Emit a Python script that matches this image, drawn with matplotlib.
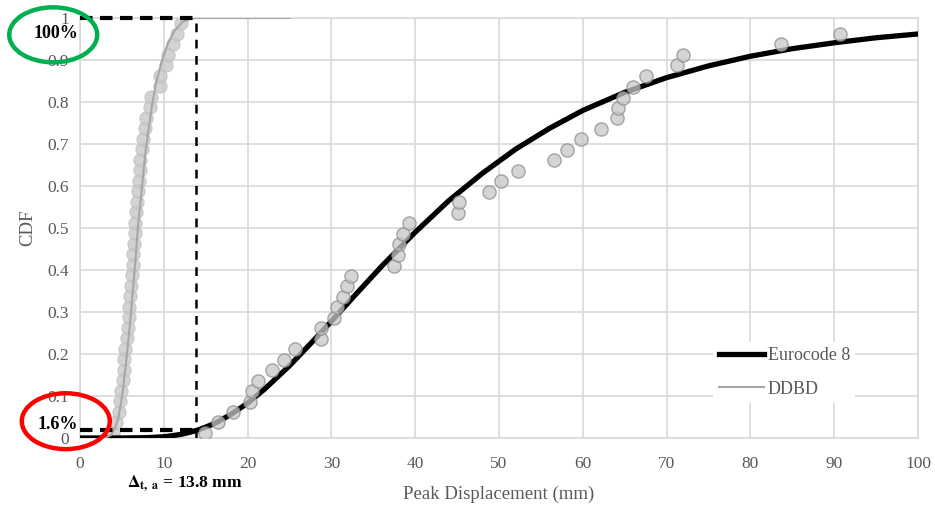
import numpy as np
import matplotlib.pyplot as plt
from matplotlib.patches import Ellipse

plt.rcParams['font.family'] = ['Liberation Serif', 'DejaVu Serif']
plt.rcParams['mathtext.fontset'] = 'stix'

# fitted CDF curves
ec8_x = [0, 5, 8, 10, 11, 12, 13, 14, 15, 16, 18, 20, 22, 25, 28, 30, 33, 36,
         40, 44, 48, 52, 56, 60, 65, 70, 75, 80, 85, 90, 95, 100]
ec8_cdf = [0.0, 0.0, 0.0008, 0.003, 0.0055, 0.0085, 0.013, 0.0186, 0.026,
           0.034, 0.056, 0.083, 0.116, 0.172, 0.235, 0.278, 0.344, 0.409,
           0.490, 0.565, 0.630, 0.688, 0.737, 0.780, 0.823, 0.858, 0.886,
           0.909, 0.927, 0.941, 0.953, 0.962]

ddbd_x = [3.0, 3.7, 4.2, 4.6, 5.1, 5.6, 6.0, 6.3, 6.6, 6.9, 7.3, 7.8, 8.5, 9.0,
          9.8, 10.5, 11.3, 12.2, 13.0, 13.8, 25]
ddbd_cdf = [0.0, 0.007, 0.025, 0.05, 0.11, 0.2, 0.28, 0.35, 0.42, 0.5, 0.58,
            0.68, 0.78, 0.84, 0.9, 0.94, 0.97, 0.99, 0.997, 1.0, 1.0]

# sample points
ec8_pts_x = [14.9, 16.5, 18.3, 20.3, 20.5, 21.2, 22.9, 24.3, 25.7, 28.8, 28.8,
             30.3, 30.7, 31.4, 31.9, 32.3, 37.5, 38.0, 38.1, 38.5, 39.3, 45.1,
             45.2, 48.8, 50.2, 52.3, 56.6, 58.1, 59.8, 62.2, 64.1, 64.2, 64.8,
             66.0, 67.5, 71.2, 71.9, 83.7, 90.7]
ec8_pts_y = [0.012, 0.038, 0.062, 0.086, 0.112, 0.136, 0.162, 0.186, 0.212,
             0.236, 0.262, 0.286, 0.312, 0.336, 0.362, 0.386, 0.41, 0.436,
             0.462, 0.486, 0.512, 0.536, 0.562, 0.586, 0.612, 0.636, 0.662,
             0.686, 0.712, 0.736, 0.762, 0.786, 0.81, 0.836, 0.862, 0.888,
             0.912, 0.938, 0.962]

ddbd_pts_x = [3.9, 4.3, 4.6, 4.8, 4.9, 5.1, 5.2, 5.3, 5.4, 5.6, 5.7, 5.8, 5.9,
              6.0, 6.1, 6.2, 6.3, 6.35, 6.45, 6.55, 6.6, 6.7, 6.8, 6.9, 7.0,
              7.1, 7.2, 7.35, 7.5, 7.7, 7.9, 8.3, 8.5, 9.6, 9.6, 10.3, 10.5,
              11.1, 11.6, 12.0]
ddbd_pts_y = [0.0125, 0.0375, 0.0625, 0.0875, 0.1125, 0.1375, 0.1625, 0.1875,
              0.2125, 0.2375, 0.2625, 0.2875, 0.3125, 0.3375, 0.3625, 0.3875,
              0.4125, 0.4375, 0.4625, 0.4875, 0.5125, 0.5375, 0.5625, 0.5875,
              0.6125, 0.6375, 0.6625, 0.6875, 0.7125, 0.7375, 0.7625, 0.7875,
              0.8125, 0.8375, 0.8625, 0.8875, 0.9125, 0.9375, 0.9625, 0.9875]

delta_ta = 13.8
p_low = 0.016

fig = plt.figure(figsize=(9.35, 5.09), dpi=100)
ax = fig.add_axes([0.0856, 0.1395, 0.8962, 0.8251])

ax.plot(ec8_x, ec8_cdf, color='black', lw=3.8, label='Eurocode 8', zorder=3)
ax.plot(ddbd_x, ddbd_cdf, color='#a6a6a6', lw=1.5, label='DDBD', zorder=3)
ax.plot(ec8_pts_x, ec8_pts_y, 'o', ms=9.5, mfc='#c8c8c8', mec='#8c8c8c',
        mew=1.0, alpha=0.75, zorder=4)
ax.plot(ddbd_pts_x, ddbd_pts_y, 'o', ms=9.5, mfc='#c8c8c8', mec='#c0c0c0',
        mew=0.8, alpha=0.8, zorder=2)

# dashed guide lines
ax.plot([0, delta_ta], [1, 1], color='black', lw=3, ls=(0, (3, 1.8)), zorder=5,
        clip_on=False)
ax.plot([0, delta_ta], [p_low + 0.004, p_low + 0.004], color='black', lw=3,
        ls=(0, (3, 1.8)), zorder=5)
ax.plot([delta_ta, delta_ta], [0, 1], color='black', lw=1.8,
        ls=(0, (3.5, 3)), zorder=5)

ax.set_xlim(0, 100)
ax.set_ylim(0, 1)
ax.set_xticks(np.arange(0, 101, 10))
ax.set_yticks(np.arange(0, 1.01, 0.1))
ax.set_yticklabels(['0', '0.1', '0.2', '0.3', '0.4', '0.5', '0.6', '0.7',
                    '0.8', '0.9', '1'])
ax.tick_params(length=0, labelsize=12.5, labelcolor='#595959', pad=8)
ax.tick_params(axis='x', pad=13)
ax.grid(True, color='#d9d9d9', lw=1.2)
ax.set_axisbelow(True)
for s in ax.spines.values():
    s.set_color('#d9d9d9')
    s.set_linewidth(1.2)

ax.set_xlabel('Peak Displacement (mm)', fontsize=13.5, color='#595959',
              labelpad=10)
ax.set_ylabel('CDF', fontsize=13.5, color='#595959', labelpad=8)

leg = ax.legend(loc='upper left', bbox_to_anchor=(0.745, 0.25), fontsize=13,
                frameon=True, facecolor='white', edgecolor='none',
                framealpha=1, handlelength=2.5, handletextpad=0.2,
                labelspacing=0.9, borderpad=0.3)
for t in leg.get_texts():
    t.set_color('#595959')

# annotations
ax.text(-2.9, 0.962, '100%', fontsize=13, fontweight='bold', ha='center',
        va='center', zorder=6, clip_on=False)
ax.text(-2.7, 0.031, '1.6%', fontsize=13, fontweight='bold', ha='center',
        va='center', zorder=6, clip_on=False)
ax.add_patch(Ellipse((-3.2, 0.96), 10.5, 0.131, fill=False, ec='#00b050',
                     lw=3.2, clip_on=False, zorder=7))
ax.add_patch(Ellipse((-1.7, 0.04), 10.5, 0.133, fill=False, ec='#ff0000',
                     lw=3.2, clip_on=False, zorder=7))
ax.text(12.5, -0.108, r'$\mathbf{\Delta}_{\mathbf{t,\ a}}$ = 13.8 mm',
        fontsize=12.5, fontweight='bold', ha='center', va='center',
        clip_on=False)

fig.savefig('out.png', dpi=100)
